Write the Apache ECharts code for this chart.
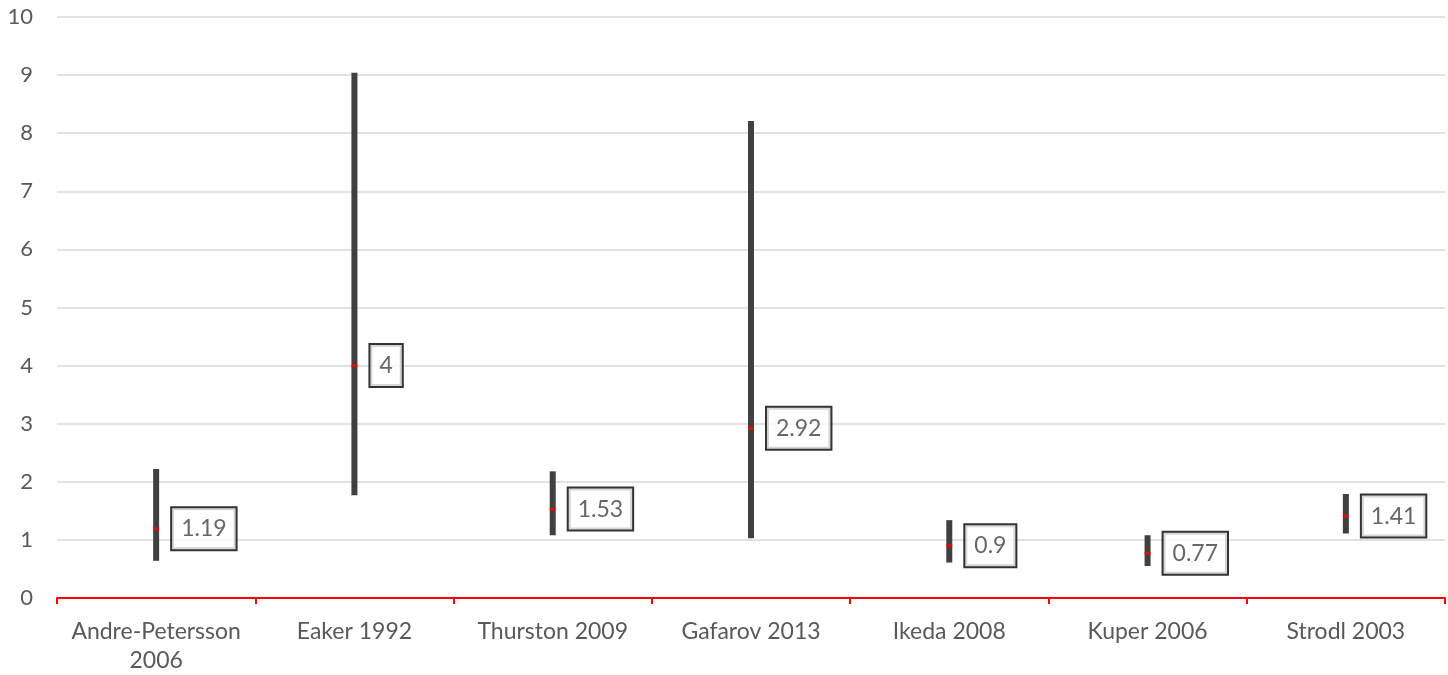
<!DOCTYPE html>
<html>
<head>
<meta charset="utf-8">
<script src="https://cdn.jsdelivr.net/npm/echarts@6/dist/echarts.min.js"></script>
<style>
  html, body { margin: 0; padding: 0; background: #fff; }
  #chart { width: 1448px; height: 675px; }
</style>
</head>
<body>
<div id="chart"></div>
<script>
// Studies and their confidence ranges with point estimates
const categories = ['Andre-Petersson\n2006', 'Eaker 1992', 'Thurston 2009', 'Gafarov 2013', 'Ikeda 2008', 'Kuper 2006', 'Strodl 2003'];
const lowValues = [0.64, 1.77, 1.08, 1.03, 0.61, 0.55, 1.11];
const highValues = [2.22, 9.04, 2.18, 8.21, 1.34, 1.08, 1.79];
const pointValues = [1.19, 4, 1.53, 2.92, 0.9, 0.77, 1.41];

const FONT = 'Lato, "Open Sans", sans-serif';

const chart = echarts.init(document.getElementById('chart'));

chart.setOption({
  animation: false,
  backgroundColor: '#ffffff',
  grid: { left: 57, right: 3, top: 17, bottom: 76, containLabel: false },
  xAxis: {
    type: 'category',
    data: categories,
    boundaryGap: true,
    axisLine: { show: true, lineStyle: { color: '#ff0000', width: 2 } },
    axisTick: { show: true, alignWithLabel: false, length: 6, lineStyle: { color: '#ff0000', width: 2 } },
    axisLabel: { color: '#595959', fontSize: 23, fontFamily: FONT, margin: 19, lineHeight: 29, interval: 0 },
    splitLine: { show: false }
  },
  yAxis: {
    type: 'value',
    min: 0,
    max: 10,
    interval: 1,
    axisLine: { show: false },
    axisTick: { show: false },
    axisLabel: { color: '#595959', fontSize: 22, fontFamily: FONT, margin: 24 },
    splitLine: { show: true, lineStyle: { color: '#d9d9d9', width: 1.5 } }
  },
  series: [
    {
      type: 'custom',
      name: 'range',
      data: categories.map((c, i) => [i, lowValues[i], highValues[i]]),
      encode: { x: 0, y: [1, 2] },
      renderItem: function (params, api) {
        const lo = api.coord([api.value(0), api.value(1)]);
        const hi = api.coord([api.value(0), api.value(2)]);
        const w = 6;
        return {
          type: 'rect',
          shape: { x: lo[0] - w / 2, y: hi[1], width: w, height: lo[1] - hi[1] },
          style: { fill: '#404040' }
        };
      },
      z: 2
    },
    {
      type: 'scatter',
      name: 'estimate',
      data: pointValues,
      symbol: 'rect',
      symbolSize: [6, 3],
      itemStyle: { color: '#ff0000' },
      label: {
        show: true,
        position: 'right',
        distance: 13,
        formatter: p => String(p.value),
        color: '#404040',
        fontSize: 23,
        fontFamily: FONT,
        lineHeight: 23,
        backgroundColor: '#ffffff',
        borderColor: '#000000',
        borderWidth: 2,
        padding: [9, 9, 9, 9]
      },
      z: 3
    }
  ]
});
</script>
</body>
</html>
